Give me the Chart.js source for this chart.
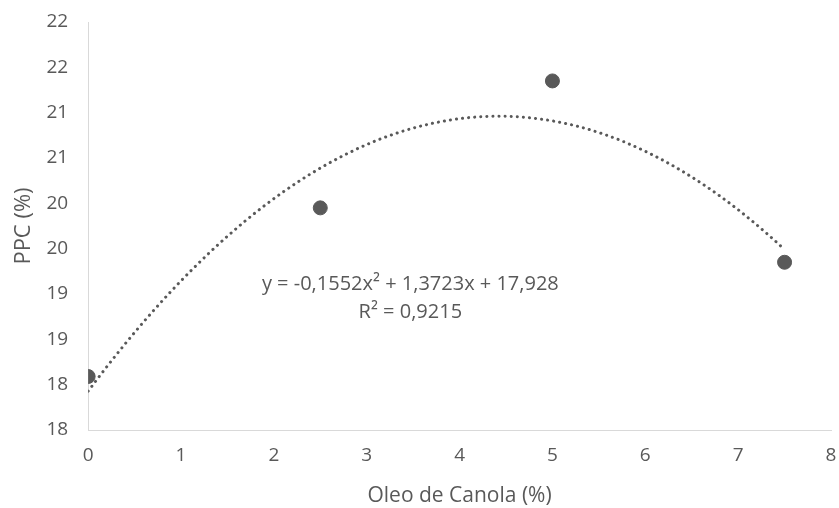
<!DOCTYPE html>
<html>
<head>
<meta charset="utf-8">
<script src="https://cdn.jsdelivr.net/npm/chart.js@4"></script>
<style>
  html, body { margin: 0; padding: 0; background: #fff; }
  #wrap { width: 839px; height: 508px; }
</style>
</head>
<body>
<div id="wrap"><canvas id="myChart" width="839" height="508"></canvas></div>
<script>
// data
var oleo = [0, 2.5, 5, 7.5];
var ppc = [18.09, 19.95, 21.35, 19.35];
// polynomial trendline coefficients as printed on the chart (a, b, c)
var trendCoef = [-0.1552, 1.3723, 17.928];
var xTickLabels = ['0', '1', '2', '3', '4', '5', '6', '7', '8'];
var yTickLabels = ['18', '18', '19', '19', '20', '20', '21', '21', '22', '22'];
var eqLines = ['y = -0,1552x\u00b2 + 1,3723x + 17,928', 'R\u00b2 = 0,9215'];

var grey = '#595959';
var font = "'Open Sans', sans-serif";

var pts = oleo.map(function(x, i) { return {x: x, y: ppc[i]}; });
var trend = [];
for (var i = 0; i <= 75; i++) {
  var x = i / 10;
  trend.push({x: x, y: trendCoef[0] * x * x + trendCoef[1] * x + trendCoef[2]});
}

var eqPlugin = {
  id: 'eq',
  afterDatasetsDraw: function(chart) {
    var c = chart.ctx, xs = chart.scales.x, ys = chart.scales.y;
    c.save();
    c.fillStyle = grey;
    c.font = '20px ' + font;
    c.textAlign = 'center';
    c.textBaseline = 'middle';
    var cx = xs.getPixelForValue(3.47);
    c.fillText(eqLines[0], cx, ys.getPixelForValue(19.11));
    c.fillText(eqLines[1], cx, ys.getPixelForValue(18.80));
    c.restore();
  }
};

// let layout.padding alone decide the plot edges
function noEdgePad(scale) {
  scale.paddingTop = 0;
  scale.paddingBottom = 0;
  scale.paddingLeft = 0;
  scale.paddingRight = 0;
}

var ctx = document.getElementById('myChart');
var myChart = new Chart(ctx, {
  type: 'scatter',
  data: {
    datasets: [{
      data: pts,
      pointRadius: 7,
      pointHoverRadius: 7,
      pointBackgroundColor: grey,
      pointBorderColor: grey,
      order: 1
    }, {
      type: 'line',
      data: trend,
      showLine: true,
      pointRadius: 0,
      borderColor: grey,
      borderWidth: 3,
      borderDash: [0.1, 6],
      borderCapStyle: 'round',
      fill: false,
      order: 2
    }]
  },
  options: {
    responsive: false,
    animation: false,
    layout: { padding: { left: 4, right: 8, top: 22, bottom: -3 } },
    plugins: { legend: { display: false }, tooltip: { enabled: false } },
    scales: {
      x: {
        type: 'linear', min: 0, max: 8,
        afterFit: noEdgePad,
        grid: { color: 'rgba(0,0,0,0)', drawTicks: false },
        border: { color: '#d9d9d9', width: 1 },
        ticks: {
          stepSize: 1, color: grey, padding: 14,
          font: { family: font, size: 19 },
          callback: function(v, idx) { return xTickLabels[idx]; }
        },
        title: { display: true, text: 'Oleo de Canola (%)', color: grey,
                 font: { family: font, size: 21 }, padding: { top: 3, bottom: 2 } }
      },
      y: {
        type: 'linear', min: 17.5, max: 22,
        afterFit: noEdgePad,
        grid: { color: 'rgba(0,0,0,0)', drawTicks: false },
        border: { color: '#d9d9d9', width: 1 },
        ticks: {
          stepSize: 0.5, color: grey, padding: 20,
          font: { family: font, size: 19 },
          callback: function(v, idx) { return yTickLabels[idx]; }
        },
        title: { display: true, text: 'PPC (%)', color: grey,
                 font: { family: font, size: 22 }, padding: { top: 7, bottom: -11 } }
      }
    }
  },
  plugins: [eqPlugin]
});
</script>
</body>
</html>
